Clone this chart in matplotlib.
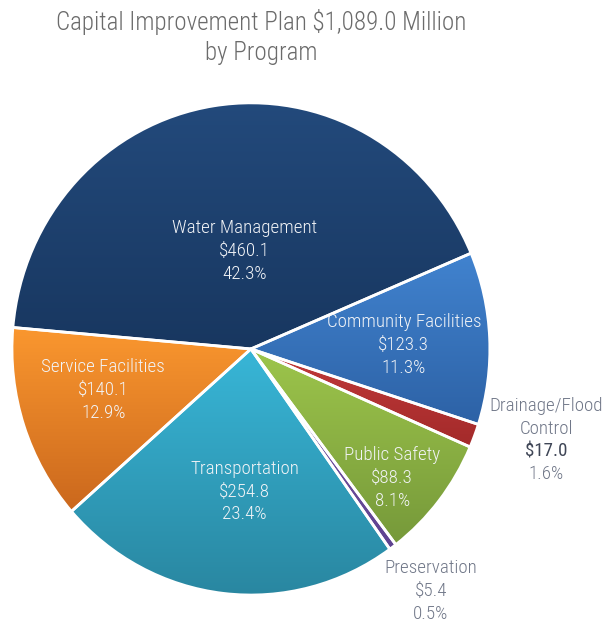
import numpy as np
import matplotlib
matplotlib.use("Agg")
import matplotlib.pyplot as plt
from matplotlib.colors import to_rgb

plt.rcParams["font.family"] = ["Roboto Condensed", "Roboto", "DejaVu Sans"]

programs = ["Water Management", "Community Facilities", "Drainage/Flood\nControl",
            "Public Safety", "Preservation", "Transportation", "Service Facilities"]
amounts = [460.1, 123.3, 17.0, 88.3, 5.4, 254.8, 140.1]
percents = [42.3, 11.3, 1.6, 8.1, 0.5, 23.4, 12.9]

# (top, bottom) gradient colours per slice
grads = [("#234a7c", "#183760"), ("#4183cf", "#2d62a6"), ("#c23a3a", "#a32a2a"),
         ("#9dc54b", "#76993a"), ("#7b59a7", "#5e4290"), ("#38b6d7", "#2986a0"),
         ("#fa972f", "#cb681d")]
# label placement: (radius, angle offset in deg), inside flag
label_pos = [(0.40, -5), (0.64, -1), (1.29, 4), (0.79, -3.5), (1.24, 1), (0.58, 4), (0.64, -3)]
inside = [True, True, False, True, False, True, True]
amt_style = [None, None, ("#3f4656", "normal"), None, ("#707788", "light"), None, None]

fig = plt.figure(figsize=(6.08, 6.23), dpi=100)
ax = fig.add_axes([0.0197, 0.0449, 0.786, 0.790])

wedges, _ = ax.pie(amounts, startangle=175, counterclock=False, radius=1,
                   colors=[g[1] for g in grads],
                   wedgeprops=dict(edgecolor="white", linewidth=2))

for w, (top, bot) in zip(wedges, grads):
    v = w.get_path().vertices
    ymin, ymax = v[:, 1].min(), v[:, 1].max()
    xmin, xmax = v[:, 0].min(), v[:, 0].max()
    t = np.linspace(0, 1, 64)[:, None]
    img = (1 - t) * np.array(to_rgb(top)) + t * np.array(to_rgb(bot))
    im = ax.imshow(img[:, None, :], extent=[xmin, xmax, ymin, ymax], origin="upper",
                   aspect="auto", interpolation="bilinear", zorder=2)
    im.set_clip_path(w)
    w.set_facecolor("none")
    w.set_zorder(3)

gap = 16.4  # points between label lines
for w, name, amt, pct, (r, off), ins, st in zip(wedges, programs, amounts, percents,
                                                label_pos, inside, amt_style):
    ang = np.deg2rad((w.theta1 + w.theta2) / 2 + off)
    x, y = r * np.cos(ang), r * np.sin(ang)
    lines = name.split("\n") + [f"${amt:.1f}", f"{pct:.1f}%"]
    n = len(lines)
    for i, line in enumerate(lines):
        col, wt = ("#f2f4f7", "light") if ins else ("#707788", "light")
        if st is not None and i == n - 2:
            col, wt = st
        ax.annotate(line, (x, y), xytext=(0, ((n - 1) / 2 - i) * gap),
                    textcoords="offset points", ha="center", va="center",
                    color=col, fontsize=13.7, fontweight=wt, zorder=5,
                    annotation_clip=False)

ax.set_xlim(-1, 1)
ax.set_ylim(-1, 1)
ax.set_aspect("auto")
ax.axis("off")

fig.text(0.429, 0.965, "Capital Improvement Plan $1,089.0 Million", ha="center", va="center",
         fontsize=18, color="#6b6b6b", fontweight="light")
fig.text(0.429, 0.915, "by Program", ha="center", va="center",
         fontsize=18, color="#6b6b6b", fontweight="light")

fig.savefig("out.png", dpi=100, facecolor="white")
